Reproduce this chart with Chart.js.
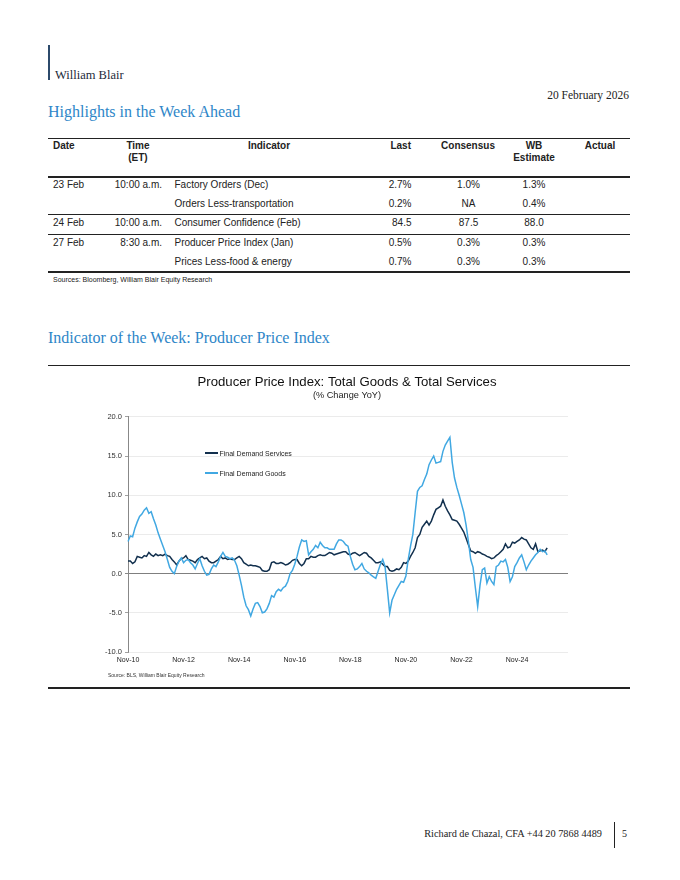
<!DOCTYPE html>
<html lang="en">
<head>
<meta charset="UTF-8">
<title>Highlights in the Week Ahead</title>
<script src="https://cdn.jsdelivr.net/npm/chart.js"></script>
<style>
  body { margin: 0; width: 680px; height: 880px; background: #fff; position: relative; font-family: "Liberation Sans", Arial, sans-serif; color: #222; }
  .t { position: absolute; white-space: nowrap; }
  .serif { font-family: "Liberation Serif", serif; }
  .head { font-family: "Liberation Serif", serif; font-size: 16px; line-height: 20px; color: #2e86c8; }
  .rule { position: absolute; left: 48px; width: 582px; background: #222; }
  .c { position: absolute; font-size: 10px; line-height: 12px; white-space: nowrap; color: #222; }
  .b { font-weight: bold; }
  .ctr { text-align: center; }
  .rgt { text-align: right; }
  .leg { position: absolute; font-size: 7px; line-height: 9px; white-space: nowrap; color: #222; }
  .swatch { position: absolute; width: 13px; height: 2px; }
  #chartBox { position: absolute; left: 48px; top: 368px; width: 582px; height: 318px; }
</style>
</head>
<body>
  <div class="t" style="left:48px; top:45px; width:1.5px; height:35px; background:#2c4a6b;"></div>
  <div class="t serif" style="left:55px; top:65px; font-size:12.5px; line-height:20px; color:#1d2a3a;">William Blair</div>
  <div class="t serif" style="right:51px; top:85px; font-size:11.5px; line-height:20px; color:#222;">20 February 2026</div>
  <div class="t head" style="left:48px; top:102px;">Highlights in the Week Ahead</div>

  <!-- table -->
  <div class="rule" style="top:138px; height:1px;"></div>
  <div class="c b" style="left:53px; top:140px;">Date</div>
  <div class="c b ctr" style="left:108px; width:60px; top:140px;">Time<br>(ET)</div>
  <div class="c b ctr" style="left:219px; width:100px; top:140px;">Indicator</div>
  <div class="c b rgt" style="left:361px; width:50px; top:140px;">Last</div>
  <div class="c b ctr" style="left:428px; width:80px; top:140px;">Consensus</div>
  <div class="c b ctr" style="left:494px; width:80px; top:140px;">WB<br>Estimate</div>
  <div class="c b ctr" style="left:570px; width:60px; top:140px;">Actual</div>
  <div class="rule" style="top:176px; height:2px;"></div>

  <div class="c" style="left:53px; top:179px;">23 Feb</div>
  <div class="c rgt" style="left:102px; width:60px; top:179px;">10:00 a.m.</div>
  <div class="c" style="left:174.5px; top:179px;">Factory Orders (Dec)</div>
  <div class="c rgt" style="left:361px; width:50.5px; top:179px;">2.7%</div>
  <div class="c ctr" style="left:428.5px; width:80px; top:179px;">1.0%</div>
  <div class="c ctr" style="left:494px; width:80px; top:179px;">1.3%</div>

  <div class="c" style="left:174.5px; top:198px;">Orders Less-transportation</div>
  <div class="c rgt" style="left:361px; width:50.5px; top:198px;">0.2%</div>
  <div class="c ctr" style="left:428.5px; width:80px; top:198px;">NA</div>
  <div class="c ctr" style="left:494px; width:80px; top:198px;">0.4%</div>
  <div class="rule" style="top:214px; height:1px;"></div>

  <div class="c" style="left:53px; top:217px;">24 Feb</div>
  <div class="c rgt" style="left:102px; width:60px; top:217px;">10:00 a.m.</div>
  <div class="c" style="left:174.5px; top:217px;">Consumer Confidence (Feb)</div>
  <div class="c rgt" style="left:361px; width:50.5px; top:217px;">84.5</div>
  <div class="c ctr" style="left:428.5px; width:80px; top:217px;">87.5</div>
  <div class="c ctr" style="left:494px; width:80px; top:217px;">88.0</div>
  <div class="rule" style="top:234px; height:1px;"></div>

  <div class="c" style="left:53px; top:237px;">27 Feb</div>
  <div class="c rgt" style="left:102px; width:60px; top:237px;">8:30 a.m.</div>
  <div class="c" style="left:174.5px; top:237px;">Producer Price Index (Jan)</div>
  <div class="c rgt" style="left:361px; width:50.5px; top:237px;">0.5%</div>
  <div class="c ctr" style="left:428.5px; width:80px; top:237px;">0.3%</div>
  <div class="c ctr" style="left:494px; width:80px; top:237px;">0.3%</div>

  <div class="c" style="left:174.5px; top:256px;">Prices Less-food &amp; energy</div>
  <div class="c rgt" style="left:361px; width:50.5px; top:256px;">0.7%</div>
  <div class="c ctr" style="left:428.5px; width:80px; top:256px;">0.3%</div>
  <div class="c ctr" style="left:494px; width:80px; top:256px;">0.3%</div>
  <div class="rule" style="top:271px; height:2px;"></div>
  <div class="t" style="left:53px; top:276px; font-size:7px; line-height:8px;">Sources: Bloomberg, William Blair Equity Research</div>

  <div class="t head" style="left:48px; top:328px;">Indicator of the Week: Producer Price Index</div>
  <div class="rule" style="top:365px; height:1px;"></div>

  <div id="chartBox"><canvas id="ppiChart"></canvas></div>

  <div class="swatch" style="left:205px; top:452px; background:#12304e;"></div>
  <div class="leg" style="left:219.5px; top:448.5px;">Final Demand Services</div>
  <div class="swatch" style="left:205px; top:472px; background:#41a8e2;"></div>
  <div class="leg" style="left:219.5px; top:468.5px;">Final Demand Goods</div>

  <div class="t" style="left:108px; top:672px; font-size:5px; line-height:6px; color:#333;">Source: BLS, William Blair Equity Research</div>
  <div class="rule" style="top:687px; height:1.5px;"></div>

  <div class="t serif" style="right:78px; top:824px; font-size:10.3px; line-height:20px; color:#222;">Richard de Chazal, CFA +44 20 7868 4489</div>
  <div class="t" style="left:614px; top:822px; width:1px; height:26px; background:#222;"></div>
  <div class="t serif" style="left:622px; top:824px; font-size:10px; line-height:20px; color:#222;">5</div>

<script>
  // monthly axis: Nov-10 .. Sep-26, labels shown every two years
  var monthNames = ["Jan", "Feb", "Mar", "Apr", "May", "Jun", "Jul", "Aug", "Sep", "Oct", "Nov", "Dec"];
  var months = [];
  for (var i = 0; i < 191; i++) {
    var m = (10 + i) % 12;
    var y = 10 + Math.floor((10 + i) / 12);
    months.push(monthNames[m] + "-" + y);
  }
  var tickLabels = ["Nov-10", "Nov-12", "Nov-14", "Nov-16", "Nov-18", "Nov-20", "Nov-22", "Nov-24"];

  // % change YoY, Nov-10 .. Dec-25
  var goods = [
    4.1, 4.8, 4.7, 5.8, 6.6, 7.3, 7.6, 8.1, 8.4, 7.7, 7.9, 7.0,
    6.2, 5.2, 4.4, 3.6, 2.8, 1.8, 0.8, 0.3, 0.0, 0.9, 1.6, 2.0,
    1.4, 1.7, 1.8, 1.4, 1.1, 0.6, 1.3, 1.9, 1.0, 0.3, -0.2, -0.1,
    0.6, 1.1, 0.9, 1.5, 2.2, 2.7, 2.2, 2.1, 1.9, 2.0, 1.7, 1.0,
    -0.2, -1.5, -3.0, -4.1, -4.6, -5.4, -4.5, -3.8, -3.7, -4.2, -5.0, -4.9,
    -4.5, -3.8, -2.8, -3.0, -2.3, -2.0, -2.2, -1.8, -1.6, -1.0, 0.0, 0.4,
    1.2, 2.2, 3.4, 4.3, 4.1, 4.2, 2.4, 2.8, 3.1, 3.6, 3.3, 4.0,
    3.6, 3.3, 3.3, 3.1, 3.1, 3.1, 3.8, 4.3, 4.3, 4.1, 3.7, 3.5,
    2.2, 1.2, 0.5, 0.6, 0.9, 1.3, 0.6, 0.3, 0.1, -0.2, -0.4, -0.6,
    0.3, 1.2, 1.8, 0.9, -2.0, -5.0, -3.4, -2.7, -2.0, -1.5, -1.0, -1.1,
    -0.3, 1.8, 3.5, 5.0, 7.8, 10.5, 11.0, 11.2, 12.0, 12.7, 13.9, 14.5,
    15.0, 14.1, 14.2, 14.3, 15.6, 16.4, 16.9, 17.4, 14.2, 12.2, 11.0, 10.0,
    8.9, 7.8, 6.2, 4.1, 1.8, 0.8, -1.8, -4.2, -1.5, 0.5, 0.7, -1.2,
    -0.4, -1.0, -1.4, 0.9, 1.1, 1.6, 1.5, 1.8, 0.8, -1.0, -0.4, 0.9,
    1.4, 2.0, 2.4, 1.5, 0.5, 1.1, 1.6, 2.0, 2.4, 2.7, 3.1, 2.8,
    2.9, 2.4
  ];
  var services = [
    1.6, 1.6, 1.3, 1.5, 2.2, 2.1, 2.0, 2.3, 2.2, 2.7, 2.4, 2.2,
    2.5, 2.3, 2.4, 2.3, 2.5, 2.3, 2.2, 1.8, 1.5, 1.1, 1.6, 1.9,
    2.0, 2.3, 1.8, 1.7, 1.6, 1.4, 1.8, 2.0, 2.2, 1.9, 2.0, 1.6,
    1.4, 1.4, 1.6, 1.8, 2.2, 1.9, 2.0, 1.8, 1.9, 1.8, 1.8, 2.0,
    2.2, 1.9, 1.4, 1.2, 1.0, 1.1, 1.0, 1.0, 0.9, 0.8, 0.4, 0.3,
    0.3, 0.5, 1.4, 1.5, 1.3, 1.3, 1.4, 1.3, 1.1, 1.2, 1.4, 1.7,
    1.8, 1.8, 1.3, 1.0, 1.3, 1.9, 1.9, 2.2, 2.1, 2.1, 2.3, 2.4,
    2.3, 2.3, 2.5, 2.7, 2.6, 2.4, 2.5, 2.6, 2.7, 2.8, 2.8, 2.5,
    2.4, 2.6, 2.7, 2.5, 2.3, 2.5, 2.7, 2.6, 2.2, 2.0, 1.7, 1.4,
    1.4, 1.5, 1.2, 0.9, 0.9, 0.4, 0.3, 0.4, 0.6, 0.5, 0.8, 1.4,
    1.3, 1.6, 2.2, 2.7, 3.3, 4.6, 5.0, 5.9, 6.3, 6.7, 6.2, 6.7,
    7.5, 8.2, 8.4, 8.6, 9.4, 8.6, 8.0, 7.5, 6.9, 6.8, 6.7, 6.3,
    5.8, 5.3, 4.5, 3.7, 2.9, 2.8, 2.6, 2.8, 2.7, 2.5, 2.4, 2.2,
    2.1, 1.9, 2.0, 2.3, 2.5, 2.8, 3.1, 3.8, 3.3, 3.4, 4.0, 3.9,
    4.1, 4.3, 4.6, 4.4, 4.3, 3.8, 3.3, 3.1, 3.8, 2.8, 2.9, 3.0,
    2.8, 3.3
  ];

  var ppiChart = new Chart(document.getElementById("ppiChart"), {
    type: "line",
    data: {
      labels: months,
      datasets: [
        { label: "Final Demand Goods", data: goods, borderColor: "#41a8e2", borderWidth: 1.5, pointRadius: 0, tension: 0 },
        { label: "Final Demand Services", data: services, borderColor: "#12304e", borderWidth: 1.5, pointRadius: 0, tension: 0 }
      ]
    },
    options: {
      responsive: true,
      maintainAspectRatio: false,
      animation: false,
      layout: { padding: { left: 16, right: 0, top: 0, bottom: 0 } },
      plugins: {
        legend: { display: false },
        tooltip: { enabled: false },
        title: {
          display: true,
          text: "Producer Price Index: Total Goods & Total Services",
          color: "#111",
          font: { family: "Liberation Sans", size: 13.2, weight: "normal" },
          padding: { top: 6, bottom: 0 }
        },
        subtitle: {
          display: true,
          text: "(% Change YoY)",
          color: "#222",
          font: { family: "Liberation Sans", size: 9.2 },
          padding: { top: 0, bottom: 16 }
        }
      },
      scales: {
        x: {
          grid: { display: false, drawTicks: false },
          border: { display: false },
          ticks: {
            autoSkip: false,
            maxRotation: 0,
            padding: 4,
            color: "#222",
            font: { family: "Liberation Sans", size: 7 },
            callback: function(val, idx) {
              return tickLabels.indexOf(months[idx]) >= 0 ? months[idx] : null;
            }
          },
          afterFit: function(s) { s.height = 34; }
        },
        y: {
          min: -10,
          max: 20,
          ticks: {
            stepSize: 5,
            padding: 3,
            color: "#333",
            font: { family: "Liberation Sans", size: 7.5 },
            callback: function(v) { return v.toFixed(1); }
          },
          grid: {
            color: function(ctx) { return ctx.tick && ctx.tick.value === 0 ? "#7f7f7f" : "#e6e6e6"; },
            lineWidth: function(ctx) { return ctx.tick && ctx.tick.value === 0 ? 1 : 0.8; },
            tickLength: 3,
            tickColor: "#888"
          },
          border: { color: "#888", width: 1 },
          afterFit: function(s) { s.width = 64; }
        },
        // empty right-hand axis keeps the plot narrower than the title block
        spacer: {
          position: "right",
          min: -10,
          max: 20,
          ticks: { display: false },
          grid: { display: false, drawTicks: false },
          border: { display: false },
          afterFit: function(s) { s.width = 62; }
        }
      }
    }
  });
</script>
</body>
</html>
